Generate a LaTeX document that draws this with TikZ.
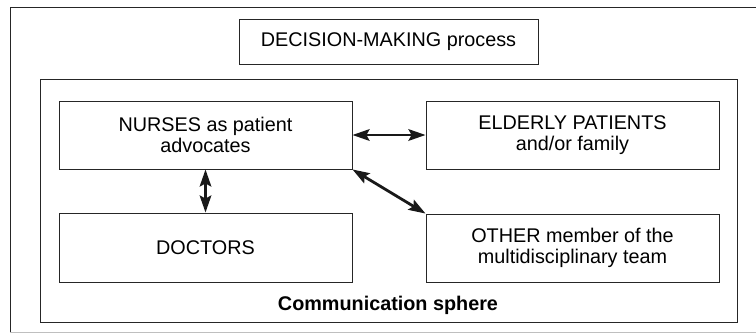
\documentclass[tikz,border=0pt]{standalone}
\usepackage{fontspec}
\setmainfont{Liberation Sans}
\usetikzlibrary{arrows.meta}
\begin{document}
\begin{tikzpicture}[x=1pt,y=-1pt,
  box/.style={draw=black!85, line width=0.9pt, align=center, inner sep=0pt,
    font=\fontsize{19.8}{20.5}\selectfont},
  frame/.style={draw=black!85, line width=0.9pt, inner sep=0pt},
  link/.style={line width=2.8pt, black!90,
    {Stealth[length=17pt,width=11.5pt,inset=3pt]}-{Stealth[length=17pt,width=11.5pt,inset=3pt]}}
]
\useasboundingbox (0,0) rectangle (756,333);
% outer frame
\draw[black!85, line width=0.9pt] (10,332) -- (10,7) -- (760,7);
\draw[black!25, line width=0.9pt] (10,332) -- (760,332);
% inner frame
\node[frame, minimum width=697pt, minimum height=243pt] (sphere) at (388.5,200.5) {};
\node[box, minimum width=299pt, minimum height=45pt] (dec) at (388.5,41.5) {DECISION-MAKING process};
\node[box, minimum width=293pt, minimum height=68pt] (nurses) at (205.5,135) {NURSES as patient\\advocates};
\node[box, minimum width=293pt, minimum height=68pt] (elderly) at (572.5,135) {ELDERLY PATIENTS\\and/or family};
\node[box, minimum width=293pt, minimum height=69pt] (doctors) at (205.5,247.5) {DOCTORS};
\node[box, minimum width=293pt, minimum height=68pt] (other) at (572.5,248) {OTHER member of the\\multidisciplinary team};
\node[anchor=base, inner sep=0pt, font=\fontsize{19.8}{20.5}\selectfont\bfseries] (label) at (388,310) {Communication sphere};
\draw[link] (nurses.east) -- (elderly.west);
\draw[link] (nurses.south) -- (doctors.north);
\draw[link] (nurses.south east) -- (other.north west);
\end{tikzpicture}
\end{document}
